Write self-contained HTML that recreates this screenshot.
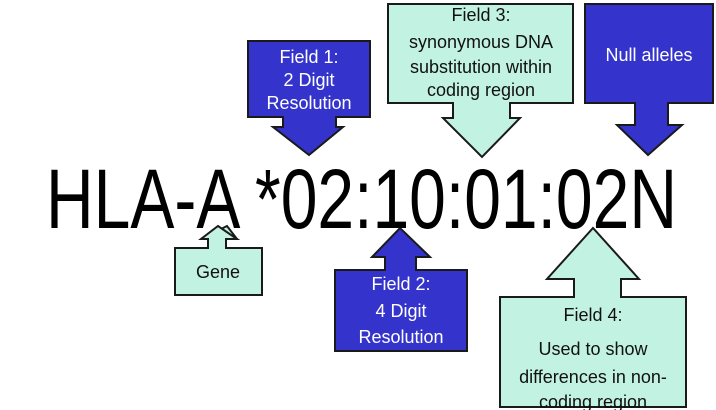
<!DOCTYPE html>
<html><head><meta charset="utf-8"><style>
html,body{margin:0;padding:0;background:#fff;}
svg{display:block;}
text{font-family:"Liberation Sans",Arial,sans-serif;}
</style></head><body>
<svg width="716" height="410" viewBox="0 0 716 410" xmlns="http://www.w3.org/2000/svg">
<g stroke="#1a1a1a" stroke-width="2" stroke-linejoin="miter">
<!-- Field 1 -->
<path d="M248,41 H370 V117 H336 V127 H343 L309,155 L273,127 H283 V117 H248 Z" fill="#3434cc"/>
<!-- Field 3 -->
<path d="M388,4 H573 V103 H510 V118 H520 L482,157 L443,118 H453 V103 H388 Z" fill="#c2f2e2"/>
<!-- Null -->
<path d="M585,4 H713 V103 H668 V125 H682 L648,155 L617,125 H635 V103 H585 Z" fill="#3434cc"/>
<!-- Gene -->
<path d="M175,248 H262 V295 H175 Z M208,248 V239 H201 L227,226 L237,239 H226 V248" fill="#c2f2e2"/>
<path d="M175,248 H208 V239 H201 L218,226 L237,239 H226 V248 H262 V295 H175 Z" fill="#c2f2e2"/>
<!-- Field 2 -->
<path d="M335,270 H385 V257 H372 L400,228 L430,257 H416 V270 H467 V351 H335 Z" fill="#3434cc"/>
<!-- Field 4 -->
<path d="M500,297 H574 V279 H547 L593,228 L639,279 H621 V297 H686 V407 H500 Z" fill="#c2f2e2"/>
</g>
<text x="46" y="228" font-size="84" textLength="631" lengthAdjust="spacingAndGlyphs" fill="#000">HLA-A *02:10:01:02N</text>
<g font-size="18" text-anchor="middle">
<g fill="#fff">
<text x="309" y="63">Field 1:</text>
<text x="309" y="86">2 Digit</text>
<text x="309" y="109">Resolution</text>
<text x="649" y="61">Null alleles</text>
<text x="401" y="290">Field 2:</text>
<text x="401" y="317">4 Digit</text>
<text x="401" y="343">Resolution</text>
</g>
<g fill="#111">
<text x="481" y="21">Field 3:</text>
<text x="481" y="48">synonymous DNA</text>
<text x="481" y="73">substitution within</text>
<text x="481" y="96">coding region</text>
<text x="218" y="278">Gene</text>
<text x="593" y="321">Field 4:</text>
<text x="593" y="355">Used to show</text>
<text x="593" y="383">differences in non-</text>
<text x="593" y="408">coding region</text>
</g>
</g>
</svg>
</body></html>
